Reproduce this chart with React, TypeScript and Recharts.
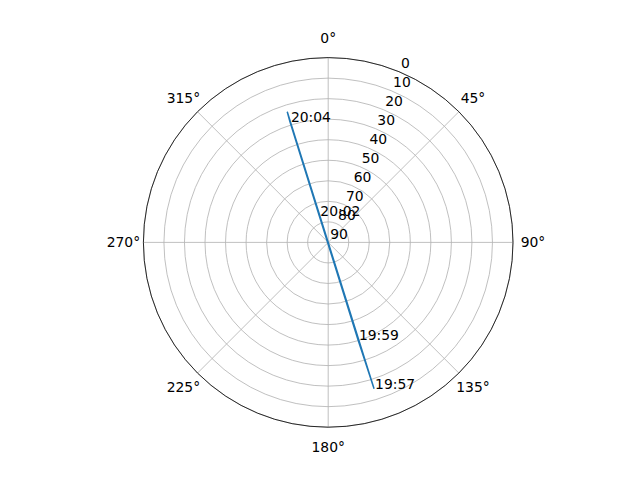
import { RadarChart, PolarGrid, PolarAngleAxis, PolarRadiusAxis, Radar } from 'recharts';

// sky track of the pass: azimuth (deg, clockwise from north) and altitude (deg)
const passTimes = ['19:57', '19:59', '20:02', '20:04', ''];
const passAzimuth = [162.6, 163.0, 341.5, 342.4, 342.6];
const passAltitude = [15.3, 40.5, 76.4, 28.3, 23.3];

const azimuthTicks = [0, 45, 90, 135, 180, 225, 270, 315];
const altitudeTicks = [0, 10, 20, 30, 40, 50, 60, 70, 80, 90];

const track = passTimes.map((time, i) => ({ time, az: passAzimuth[i], alt: passAltitude[i] }));

const FONT = 'DejaVu Sans, sans-serif';
const FONT_SIZE = 13.9;

const renderAngleTick = (props: any) => (
  <text
    x={props.x}
    y={props.y}
    textAnchor="middle"
    dominantBaseline="central"
    fontFamily={FONT}
    fontSize={FONT_SIZE}
    fill="#000"
  >
    {`${props.payload.value}°`}
  </text>
);

const renderRadiusTick = (props: any) => (
  <text x={props.x + 2} y={props.y - 3.5} textAnchor="start" fontFamily={FONT} fontSize={FONT_SIZE} fill="#000">
    {props.payload.value}
  </text>
);

// time labels sit with their left baseline on the track point
const renderTimeLabel = (props: any) => {
  const row = props.payload?.payload ?? props.payload;
  if (!row || !row.time) return <g key={`t-${props.index}`} />;
  return (
    <text
      key={`t-${props.index}`}
      x={props.cx + 1}
      y={props.cy}
      textAnchor="start"
      fontFamily={FONT}
      fontSize={FONT_SIZE}
      fill="#000"
    >
      {row.time}
    </text>
  );
};

export default function App() {
  return (
    <div style={{ position: 'absolute', left: 0, top: 0, width: 640, height: 480, background: '#fff' }}>
      <RadarChart
        width={640}
        height={480}
        data={track}
        cx={328.2}
        cy={242.4}
        outerRadius={184.8}
        startAngle={90}
        endAngle={-270}
        margin={{ top: 0, right: 0, bottom: 0, left: 0 }}
      >
        <PolarGrid gridType="circle" stroke="#b0b0b0" strokeWidth={0.8} />
        <PolarAngleAxis
          dataKey="az"
          type="number"
          domain={[0, 360]}
          ticks={azimuthTicks}
          tickSize={20}
          tickLine={false}
          axisLine
          axisLineType="circle"
          stroke="#000"
          strokeWidth={0.8}
          tick={renderAngleTick}
        />
        <PolarRadiusAxis
          angle={67.5}
          type="number"
          domain={[0, 90]}
          reversed
          ticks={altitudeTicks}
          tickCount={10}
          axisLine={false}
          tick={renderRadiusTick}
        />
        <Radar
          dataKey="alt"
          stroke="#1f77b4"
          strokeWidth={1.5}
          fill="none"
          fillOpacity={0}
          dot={renderTimeLabel}
          isAnimationActive={false}
        />
      </RadarChart>
    </div>
  );
}
